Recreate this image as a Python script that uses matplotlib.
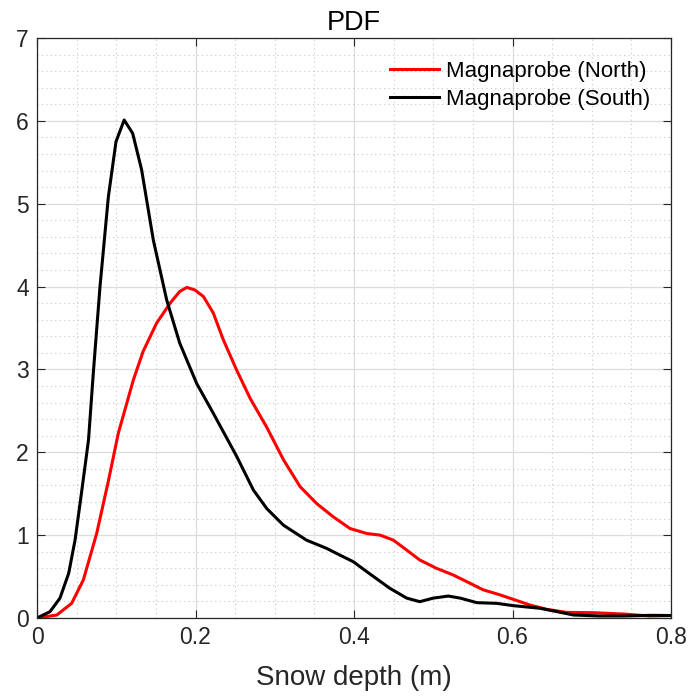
import matplotlib
matplotlib.use("Agg")
import matplotlib.pyplot as plt
from matplotlib.ticker import MultipleLocator, FuncFormatter

plt.rcParams['font.family'] = ['Liberation Sans', 'DejaVu Sans']

# Data
north_x = [0.0, 0.025, 0.0437, 0.0585, 0.0753, 0.090, 0.1026, 0.1215, 0.134, 0.151, 0.168,
           0.180, 0.189, 0.199, 0.210, 0.2225, 0.235, 0.252, 0.269, 0.290, 0.311, 0.332,
           0.353, 0.374, 0.395, 0.416, 0.433, 0.4496, 0.4665, 0.483, 0.504, 0.525, 0.542,
           0.563, 0.584, 0.601, 0.622, 0.643, 0.668, 0.702, 0.74, 0.773, 0.8]
north_y = [0.0, 0.036, 0.177, 0.46, 1.02, 1.65, 2.23, 2.87, 3.22, 3.56, 3.80,
           3.94, 3.99, 3.96, 3.88, 3.68, 3.36, 2.99, 2.65, 2.30, 1.91, 1.585,
           1.38, 1.22, 1.08, 1.02, 1.0, 0.94, 0.82, 0.70, 0.60, 0.52, 0.44,
           0.34, 0.28, 0.225, 0.157, 0.105, 0.068, 0.064, 0.048, 0.024, 0.03]

south_x = [0.0, 0.0164, 0.029, 0.040, 0.048, 0.056, 0.065, 0.071, 0.0795, 0.090, 0.0997,
           0.110, 0.1207, 0.132, 0.1468, 0.1636, 0.180, 0.2015, 0.2225, 0.252, 0.273,
           0.290, 0.311, 0.340, 0.3655, 0.382, 0.399, 0.416, 0.445, 0.4665, 0.483, 0.50,
           0.519, 0.534, 0.555, 0.580, 0.601, 0.635, 0.656, 0.677, 0.710, 0.74, 0.773, 0.8]
south_y = [0.0, 0.076, 0.24, 0.54, 0.94, 1.50, 2.15, 2.95, 4.0, 5.08, 5.75,
           6.01, 5.85, 5.41, 4.56, 3.84, 3.32, 2.83, 2.47, 1.95, 1.545,
           1.32, 1.12, 0.94, 0.84, 0.76, 0.68, 0.56, 0.36, 0.24, 0.197, 0.24,
           0.265, 0.24, 0.185, 0.177, 0.149, 0.117, 0.077, 0.036, 0.024, 0.024, 0.032, 0.03]

labels = ["Magnaprobe (North)", "Magnaprobe (South)"]
title = "PDF"
xlabel = "Snow depth (m)"

fig = plt.figure(figsize=(6.95, 6.99), dpi=100)
ax = fig.add_axes([37/695, 1 - 618/699, (671-37)/695, (618-38)/699])

dark = '#262626'
ax.plot(north_x, north_y, color='#ff0000', lw=2.2, label=labels[0])
ax.plot(south_x, south_y, color='#000000', lw=2.2, label=labels[1])

ax.set_xlim(0, 0.8)
ax.set_ylim(0, 7)
ax.xaxis.set_major_locator(MultipleLocator(0.2))
ax.xaxis.set_minor_locator(MultipleLocator(0.05))
ax.yaxis.set_major_locator(MultipleLocator(1))
ax.yaxis.set_minor_locator(MultipleLocator(0.2))
ax.xaxis.set_major_formatter(FuncFormatter(lambda v, p: '%g' % round(v, 2)))

ax.grid(which='major', color='#dcdcdc', lw=0.9, ls='-')
ax.grid(which='minor', color='#c8c8c8', lw=0.8, ls=(0, (1, 3)))
ax.set_axisbelow(True)

ax.tick_params(which='major', direction='in', length=6, width=0.8, top=True, right=True,
               labelsize=16.5, colors=dark, pad=6)
ax.tick_params(which='minor', length=0, top=True, right=True)
for s in ax.spines.values():
    s.set_color(dark)
    s.set_linewidth(0.9)

ax.set_title(title, fontsize=19.5, color='black', pad=6)
ax.set_xlabel(xlabel, fontsize=20, color=dark, labelpad=11)

leg = ax.legend(loc='upper right', frameon=False, fontsize=16, handlelength=2.2,
                handletextpad=0.3, labelspacing=0.3, borderaxespad=0.0, borderpad=0.0,
                bbox_to_anchor=(650/695, 1 - 61/699), bbox_transform=fig.transFigure)

fig.savefig("out.png", dpi=100, facecolor='white')
